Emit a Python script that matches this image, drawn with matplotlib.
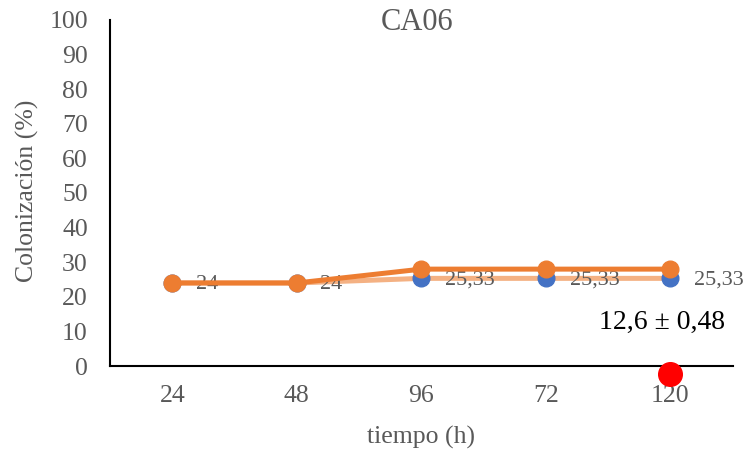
import matplotlib
matplotlib.use("Agg")
import matplotlib.pyplot as plt
import numpy as np

# colonizacion CA06 por tiempo de muestreo
tiempos = ["24", "48", "96", "72", "120"]
serie_media = [24, 24, 25.33, 25.33, 25.33]
serie_max = [24, 24, 28, 28, 28]
punto_rojo = -2.3
etiquetas = ["24", "24", "25,33", "25,33", "25,33"]
texto_final = "12,6 ± 0,48"
valor_final = 12.6

plt.rcParams["font.family"] = ["Liberation Serif", "DejaVu Serif"]
gris = "#595959"

fig = plt.figure(figsize=(7.5, 4.54), dpi=100)
ax = fig.add_axes([0.1467, 0.1938, 0.8303, 0.7622])

x = np.arange(len(tiempos))
ax.plot(x, serie_media, color="#F4B183", lw=3.6, marker="o", ms=12,
        mfc="#4472C4", mec="#4472C4", zorder=3)
ax.plot(x, serie_max, color="#ED7D31", lw=3.6, marker="o", ms=12,
        mfc="#ED7D31", mec="#ED7D31", zorder=4)
ax.plot([x[-1]], [punto_rojo], "o", color="#FF0000", ms=17, clip_on=False, zorder=5)

for xi, yi, t in zip(x, serie_media, etiquetas):
    ax.annotate(t, (xi, yi), xytext=(17, -1), textcoords="offset points",
                ha="left", va="center", fontsize=16, color=gris)

ax.text(x[-1] - 0.065, valor_final, texto_final, ha="center", va="center",
        fontsize=20, color="black")

ax.set_xlim(-0.5, len(tiempos) - 0.5)
ax.set_ylim(0, 100)
ax.set_yticks(np.arange(0, 101, 10))
ax.set_xticks(x)
ax.set_xticklabels(tiempos)
ax.tick_params(axis="both", length=0, labelsize=18.5, labelcolor=gris)
ax.tick_params(axis="y", pad=16)
ax.tick_params(axis="x", pad=14)

for s in ["top", "right"]:
    ax.spines[s].set_visible(False)
ax.spines["left"].set_linewidth(1.5)
ax.spines["bottom"].set_linewidth(1.5)

fig.text(417 / 750, 1 - 23 / 454, "CA06", fontsize=22, color=gris,
         ha="center", va="center")
fig.text(421 / 750, 1 - 437 / 454, "tiempo (h)", fontsize=18.5, color=gris,
         ha="center", va="center")
fig.text(27 / 750, 1 - 191 / 454, "Colonización (%)", fontsize=18.5, color=gris,
         ha="center", va="center", rotation=90)

fig.savefig("out.png", dpi=100)
